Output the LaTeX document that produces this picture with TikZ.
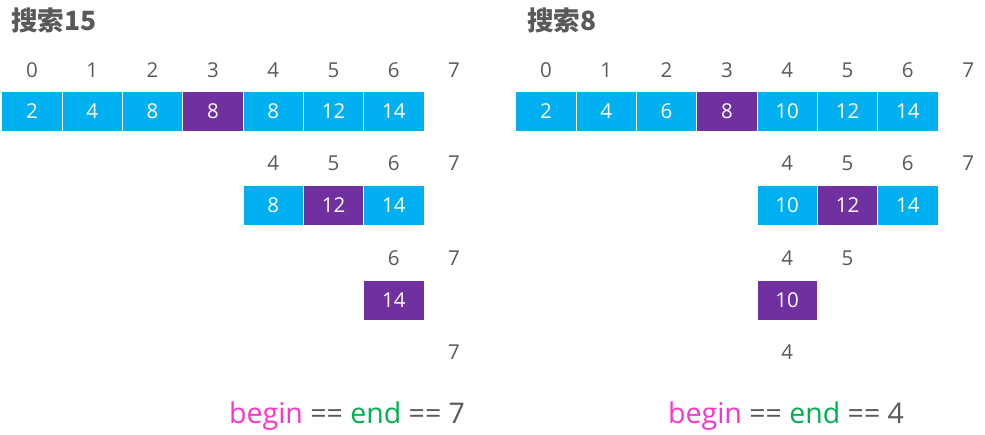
\documentclass[tikz,border=0pt]{standalone}
\usepackage{fontspec}
\setmainfont{Open Sans}
\newfontfamily\cjk{Noto Sans CJK SC}
\definecolor{cellblue}{HTML}{00B0F0}
\definecolor{cellpurple}{HTML}{7030A0}
\definecolor{txtgrey}{HTML}{595959}
\definecolor{pinkish}{HTML}{FF33CC}
\definecolor{greenish}{HTML}{00B050}
\begin{document}
\begin{tikzpicture}[x=1pt,y=-1pt,
  cellbox/.style={minimum width=60.3pt,minimum height=40pt,inner sep=0pt,draw=white,line width=0.8pt,text=white,font=\fontsize{20.5}{20.5}\selectfont},
  bluecell/.style={cellbox,fill=cellblue},
  purplecell/.style={cellbox,fill=cellpurple},
  idx/.style={text=txtgrey,inner sep=0pt,font=\fontsize{20.5}{20.5}\selectfont},
  title/.style={text=txtgrey,inner sep=0pt,anchor=west,font=\cjk\bfseries\fontsize{26.5}{26.5}\selectfont},
  result/.style={inner sep=0pt,font=\fontsize{28.5}{28.5}\selectfont}]
\useasboundingbox (0,0) rectangle (985,435);
% titles
\node[title] (t1) at (11,20) {搜索15};
\node[title] (t2) at (527,20) {搜索8};
% ---------- left ----------
\foreach \i in {0,...,7} {\node[idx] (la\i) at ({32+60.3*\i},70) {\i};}
\foreach \i/\v/\s in {0/2/bluecell,1/4/bluecell,2/8/bluecell,3/8/purplecell,4/8/bluecell,5/12/bluecell,6/14/bluecell}
  {\node[\s] (lc\i) at ({32+60.3*\i},111) {\v};}
\foreach \i in {4,...,7} {\node[idx] (lb\i) at ({32+60.3*\i},163) {\i};}
\foreach \i/\v/\s in {4/8/bluecell,5/12/purplecell,6/14/bluecell}
  {\node[\s] (ld\i) at ({32+60.3*\i},205) {\v};}
\foreach \i in {6,7} {\node[idx] (le\i) at ({32+60.3*\i},258) {\i};}
\node[purplecell] (lf6) at ({32+60.3*6},300) {14};
\node[idx] (lg7) at ({32+60.3*7},352) {7};
\node[result,anchor=base west] (lr) at (229,423) {\textcolor{pinkish}{begin} \textcolor{txtgrey}{==} \textcolor{greenish}{end} \textcolor{txtgrey}{== 7}};
% ---------- right ----------
\foreach \i in {0,...,7} {\node[idx] (ra\i) at ({546+60.3*\i},70) {\i};}
\foreach \i/\v/\s in {0/2/bluecell,1/4/bluecell,2/6/bluecell,3/8/purplecell,4/10/bluecell,5/12/bluecell,6/14/bluecell}
  {\node[\s] (rc\i) at ({546+60.3*\i},111) {\v};}
\foreach \i in {4,...,7} {\node[idx] (rb\i) at ({546+60.3*\i},163) {\i};}
\foreach \i/\v/\s in {4/10/bluecell,5/12/purplecell,6/14/bluecell}
  {\node[\s] (rd\i) at ({546+60.3*\i},205) {\v};}
\foreach \i in {4,5} {\node[idx] (re\i) at ({546+60.3*\i},258) {\i};}
\node[purplecell] (rf4) at ({546+60.3*4},300) {10};
\node[idx] (rg4) at ({546+60.3*4},352) {4};
\node[result,anchor=base west] (rr) at (668,423) {\textcolor{pinkish}{begin} \textcolor{txtgrey}{==} \textcolor{greenish}{end} \textcolor{txtgrey}{== 4}};
\end{tikzpicture}
\end{document}
